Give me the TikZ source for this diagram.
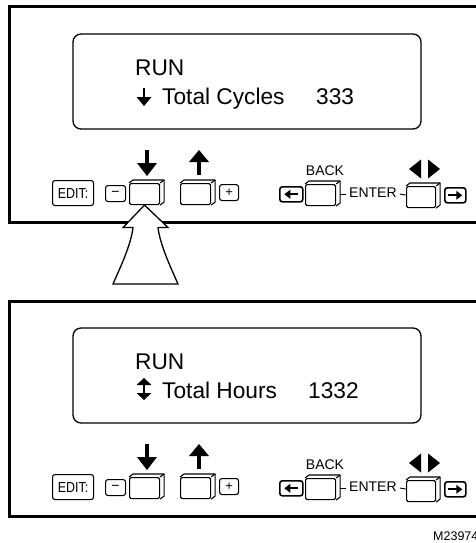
\documentclass[tikz,border=0pt]{standalone}
\usepackage{fontspec}
\setmainfont{Liberation Sans}
\tikzset{
  frame/.style={line width=3pt},
  disp/.style={line width=1.3pt, rounded corners=8pt},
  keyface/.style={draw, line width=1.1pt, rounded corners=1.5pt, inner sep=0pt, minimum width=30pt, minimum height=21pt, anchor=north west, fill=white},
  keyline/.style={line width=1.1pt, line join=round},
  smallbox/.style={draw, line width=1.1pt, rounded corners=2.5pt, inner sep=0pt, anchor=north west},
  arrbox/.style={draw, line width=1.6pt, rounded corners=2.5pt, inner sep=0pt, anchor=north west, minimum width=22pt, minimum height=15pt},
  bigtxt/.style={font=\fontsize{22.7}{26}\selectfont, inner sep=0pt, anchor=base west},
  lbl/.style={font=\fontsize{14}{16}\selectfont, inner sep=0pt},
  tick/.style={line width=0.9pt},
}
\newcommand\KeyThreeD[1]{%
  \draw[keyline] (#1.north west) -- ++(4,-3) -- ([shift={(4,-3)}]#1.north east)
     -- ([shift={(4,-3)}]#1.south east) -- (#1.south east);
  \draw[keyline] (#1.north east) -- ++(4,-3);
}
\newcommand\PanelBody{%
  \draw[frame] (9,7) rectangle (495,222);
  \draw[disp] (73,34) rectangle (421,129);
  \node[bigtxt] (run) at (135,75.5) {RUN};
  % EDIT box
  \node[smallbox, minimum width=41pt, minimum height=25pt] (edit) at (52,180)
     {\fontsize{14.5}{15}\selectfont\scalebox{0.86}[1]{EDIT:}};
  % minus box and down key
  \node[smallbox, minimum width=20pt, minimum height=16pt] (minus) at (105,185)
     {\fontsize{14}{14}\selectfont −};
  \node[keyface] (down) at (129,183) {};
  \KeyThreeD{down}
  \fill (144.8,150) rectangle (149.2,164);
  \fill (137,163) -- (157,163) -- (147,176) -- cycle;
  % up key and plus box
  \node[keyface] (up) at (180,183) {};
  \KeyThreeD{up}
  \fill (196.8,161) rectangle (201.2,175);
  \fill (189,162) -- (209,162) -- (199,150) -- cycle;
  \node[smallbox, minimum width=19pt, minimum height=16pt] (plus) at (219,184)
     {\fontsize{13}{13}\selectfont +};
  % back
  \node[arrbox, minimum width=23pt] (larr) at (279,186) {};
  \fill ([shift={(-7,0)}]larr.center) -- ++(6,-4.5) -- ++(0,9) -- cycle;
  \draw[line width=2.2pt] ([shift={(-2,0)}]larr.center) -- ([shift={(7,0)}]larr.center);
  \node[keyface] (back) at (305,184) {};
  \KeyThreeD{back}
  \node[lbl, anchor=base] (backlbl) at (325,175.7) {BACK};
  \node[lbl, anchor=base west] (enter) at (349,197) {ENTER};
  \draw[tick] ([shift={(4,-1)}]back.east) -- ([shift={(-3,-1)}]back.east -| enter.west);
  \node[keyface, minimum width=29pt] (ent) at (406,186) {};
  \KeyThreeD{ent}
  \draw[tick] ([shift={(3,-1)}]back.east -| enter.east) -- (back.east -| ent.west);
  \fill (409,169) -- (421,159.5) -- (421,178.5) -- cycle;
  \fill (428,159.5) -- (428,178.5) -- (440,169) -- cycle;
  \node[arrbox, minimum width=21pt] (rarr) at (444,187) {};
  \fill ([shift={(7,0)}]rarr.center) -- ++(-6,-4.5) -- ++(0,9) -- cycle;
  \draw[line width=2.2pt] ([shift={(2,0)}]rarr.center) -- ([shift={(-7,0)}]rarr.center);
}
\begin{document}
\begin{tikzpicture}[x=1pt, y=-1pt]
  \useasboundingbox (0,0) rectangle (475,543);
  \begin{scope}[name prefix=t-]
    \PanelBody
    \node[bigtxt] (tot) at (162,104) {Total Cycles};
    \node[bigtxt] (val) at (316,104) {333};
    \draw[line width=1.6pt] (144,87.5) -- (144,98);
    \fill (136.5,97) -- (151.5,97) -- (144,106) -- cycle;
  \end{scope}
  \begin{scope}[name prefix=b-, shift={(0,294)}]
    \PanelBody
    \node[bigtxt] (tot) at (162,104) {Total Hours};
    \node[bigtxt] (val) at (308,104) {1332};
    \draw[line width=2.6pt] (144,89) -- (144,101);
    \fill (136.5,91) -- (151.5,91) -- (144,84) -- cycle;
    \fill (136.5,99) -- (151.5,99) -- (144,106) -- cycle;
  \end{scope}
  % hollow pointer arrow
  \draw[line width=1.3pt, fill=white, line join=miter]
    (t-down.south) -- (168,227.5) -- (158,227.5)
    .. controls (160,245) and (171,268) .. (178,284) -- (113,284)
    .. controls (120,268) and (131,245) .. (133,227.5) -- (123,227.5) -- cycle;
  \node[font=\fontsize{12.5}{13}\selectfont, inner sep=0pt, anchor=base west] (code) at (433,540) {M23974};
\end{tikzpicture}
\end{document}
